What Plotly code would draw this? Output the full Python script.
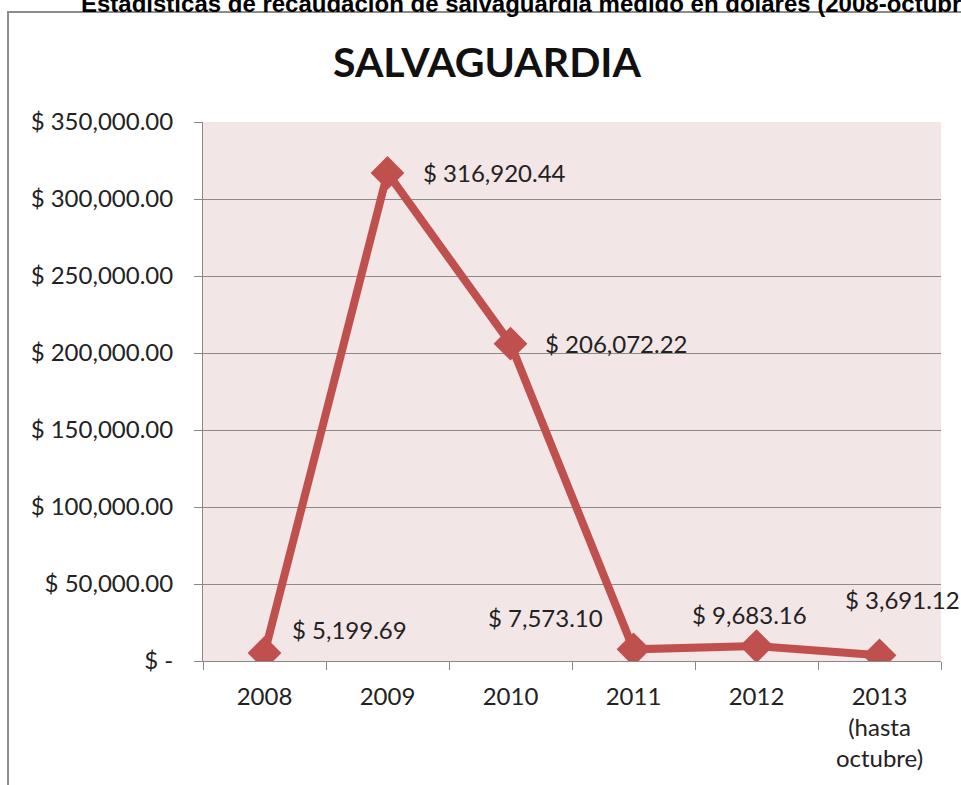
import plotly.graph_objects as go

years = ["2008", "2009", "2010", "2011", "2012", "2013<br>(hasta<br>octubre)"]
values = [5199.69, 316920.44, 206072.22, 7573.10, 9683.16, 3691.12]
label_texts = ["$ 5,199.69", "$ 316,920.44", "$ 206,072.22", "$ 7,573.10", "$ 9,683.16", "$ 3,691.12"]
y_tickvals = [0, 50000, 100000, 150000, 200000, 250000, 300000, 350000]
y_ticktext = ["$ -", "$ 50,000.00", "$ 100,000.00", "$ 150,000.00", "$ 200,000.00",
              "$ 250,000.00", "$ 300,000.00", "$ 350,000.00"]

FONT = "Lato"
RED = "#C0504D"
TXT = "#222222"

fig = go.Figure()
fig.add_trace(go.Scatter(
    x=years, y=values, mode="lines+markers",
    line=dict(color=RED, width=8),
    marker=dict(symbol="diamond", size=26, color=RED),
    hoverinfo="skip", showlegend=False,
))

# label placement (xshift, yshift, xanchor)
placements = [(25, 23, "left"), (33, 0, "left"), (32, 0, "left"),
              (-29, 32, "right"), (-7, 32, "center"), (-37, 56, "left")]
for i, (yv, t, (dx, dy, xa)) in enumerate(zip(values, label_texts, placements)):
    fig.add_annotation(x=i, y=yv, text=t, showarrow=False, xanchor=xa, yanchor="middle",
                       xshift=dx, yshift=dy, font=dict(family=FONT, size=24, color=TXT))

fig.add_annotation(xref="paper", yref="paper", x=0.385, y=1.0, yshift=61, text="<b>SALVAGUARDIA</b>",
                   showarrow=False, xanchor="center", yanchor="middle",
                   font=dict(family=FONT, size=41, color="#111111"))
fig.add_annotation(xref="paper", yref="paper", x=-0.1682, y=1.0, yshift=119,
                   text="<b>Estadísticas de recaudación de salvaguardia medido en dólares (2008-octubre 2013)</b>",
                   showarrow=False, xanchor="left", yanchor="middle",
                   font=dict(family="Liberation Sans", size=24, color="#000000"))

# chart border
fig.add_shape(type="rect", xref="paper", yref="paper", x0=-0.2642, x1=1.2, y0=-0.4, y1=1.204,
              line=dict(color="#8C8C8C", width=2), fillcolor="rgba(0,0,0,0)", layer="below")

fig.update_layout(
    width=961, height=785,
    margin=dict(l=203, r=20, t=122, b=124, autoexpand=False),
    paper_bgcolor="white", plot_bgcolor="#F2E6E6",
    font=dict(family=FONT, size=24, color=TXT),
    xaxis=dict(type="category", tickson="boundaries", ticks="outside", ticklen=8,
               tickcolor="#888888", showline=True, linecolor="#888888", linewidth=1,
               showgrid=False, range=[-0.5, 5.5], ticklabelstandoff=14,
               tickfont=dict(family=FONT, size=24, color=TXT)),
    yaxis=dict(range=[0, 350000], tickvals=y_tickvals, ticktext=y_ticktext,
               ticks="outside", ticklen=8, tickcolor="#888888",
               showline=True, linecolor="#888888", linewidth=1,
               gridcolor="#8A8A8A", gridwidth=1, zeroline=False,
               ticklabelstandoff=16, tickfont=dict(family=FONT, size=24, color=TXT)),
)

fig.write_html("out.html", config={"displayModeBar": False},
               post_script="document.body.style.margin='0px';document.body.style.overflow='hidden';")
